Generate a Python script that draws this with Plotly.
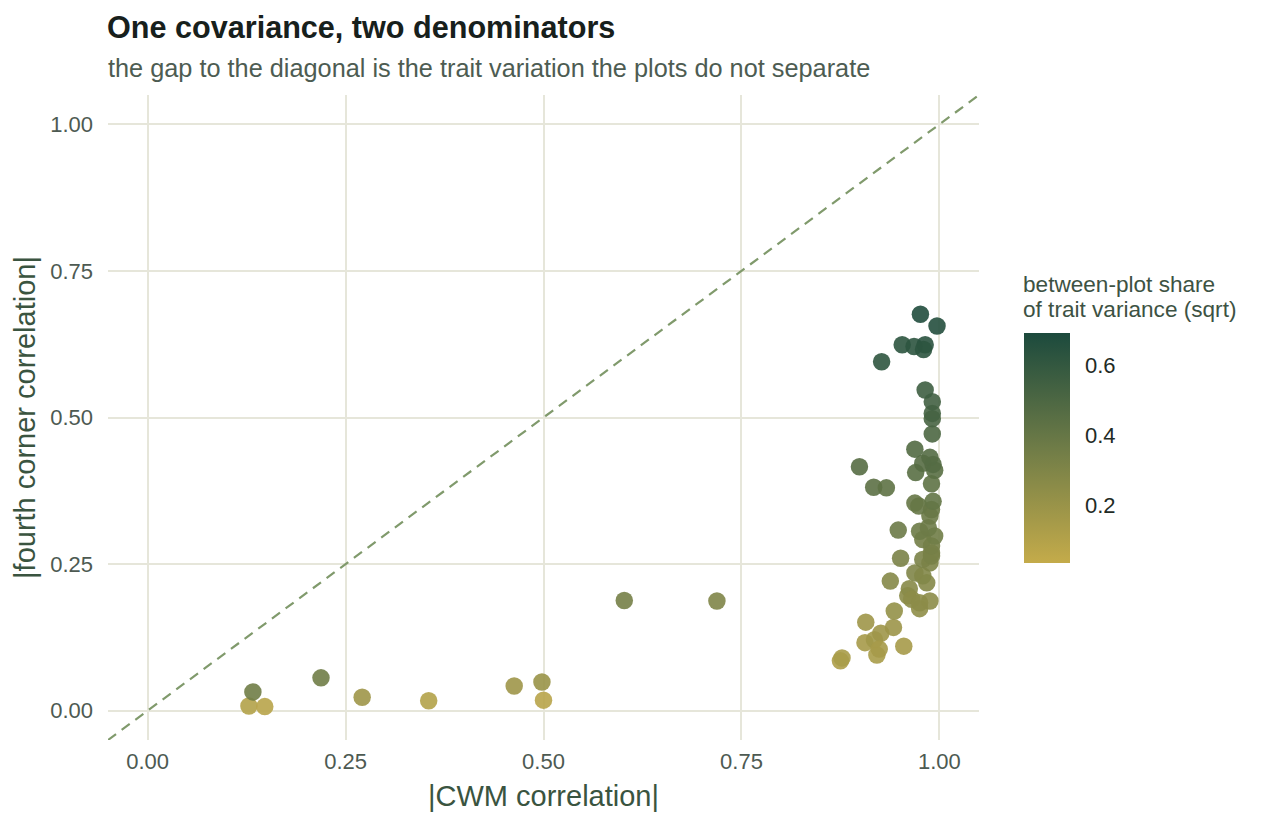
import plotly.graph_objects as go

cwm_corr = [0.128, 0.148, 0.133, 0.219, 0.271, 0.355, 0.463, 0.498, 0.500, 0.602, 0.719,
            0.875, 0.877, 0.907, 0.906, 0.918, 0.926, 0.921, 0.924, 0.942, 0.943, 0.955,
            0.938, 0.951, 0.969, 0.962, 0.960, 0.965, 0.975, 0.975, 0.988, 0.984, 0.979,
            0.988, 0.990, 0.979, 0.990, 0.990, 0.979, 0.994, 0.986, 0.975, 0.948, 0.988,
            0.990, 0.974, 0.969, 0.992, 0.917, 0.933, 0.990, 0.970, 0.994, 0.899, 0.979,
            0.992, 0.988, 0.969, 0.991, 0.991, 0.991, 0.991, 0.982, 0.927, 0.953, 0.968,
            0.982, 0.980, 0.997, 0.976]
fourth_corner = [0.008, 0.007, 0.032, 0.056, 0.023, 0.017, 0.042, 0.049, 0.018, 0.188, 0.187,
                 0.085, 0.090, 0.151, 0.116, 0.121, 0.132, 0.095, 0.105, 0.142, 0.170, 0.110,
                 0.221, 0.260, 0.235, 0.208, 0.196, 0.190, 0.174, 0.184, 0.187, 0.218, 0.230,
                 0.252, 0.269, 0.258, 0.264, 0.281, 0.292, 0.298, 0.312, 0.306, 0.308, 0.332,
                 0.343, 0.349, 0.354, 0.357, 0.381, 0.380, 0.387, 0.406, 0.410, 0.416, 0.422,
                 0.420, 0.432, 0.446, 0.472, 0.498, 0.507, 0.527, 0.547, 0.595, 0.624, 0.621,
                 0.624, 0.616, 0.656, 0.676]
between_share = [0.10, 0.08, 0.36, 0.36, 0.18, 0.10, 0.18, 0.20, 0.08, 0.34, 0.30,
                 0.12, 0.14, 0.18, 0.15, 0.17, 0.18, 0.14, 0.15, 0.19, 0.22, 0.15,
                 0.28, 0.32, 0.30, 0.27, 0.26, 0.25, 0.24, 0.25, 0.25, 0.28, 0.29,
                 0.31, 0.33, 0.32, 0.33, 0.34, 0.35, 0.36, 0.37, 0.37, 0.38, 0.38,
                 0.39, 0.40, 0.40, 0.41, 0.44, 0.43, 0.43, 0.45, 0.45, 0.46, 0.46,
                 0.47, 0.47, 0.48, 0.50, 0.52, 0.53, 0.54, 0.56, 0.62, 0.63, 0.63,
                 0.64, 0.63, 0.66, 0.68]

axis_range = [-0.05, 1.05]
tick_vals = [0, 0.25, 0.5, 0.75, 1.0]
tick_text = ["0.00", "0.25", "0.50", "0.75", "1.00"]
cbar_ticks = [0.2, 0.4, 0.6]
cbar_labels = ["0.2", "0.4", "0.6"]
cbar_min, cbar_max = 0.034, 0.694

W, H = 1267, 825
L, R, T, B = 108, 288, 95, 85
PW, PH = W - L - R, H - T - B
font_fam = "Liberation Sans, Arial, Helvetica, sans-serif"
grid_col = "#e6e6da"


def px_x(px):
    return (px - L) / PW


def px_y(py):
    return (H - B - py) / PH


# colorbar geometry (pixels)
cb_left, cb_top, cb_bottom, cb_thick = 1024, 333, 563, 46
cb_len = cb_bottom - cb_top

fig = go.Figure()
fig.add_trace(go.Scatter(
    x=axis_range, y=axis_range, mode="lines",
    line=dict(color="#809a6c", width=2.2, dash="10px,7px"),
    hoverinfo="skip", showlegend=False))
fig.add_trace(go.Scatter(
    x=cwm_corr, y=fourth_corner, mode="markers", showlegend=False,
    marker=dict(size=17.5, color=between_share, opacity=0.9,
                cmin=cbar_min, cmax=cbar_max,
                colorscale=[[0, "#c4ab4a"], [0.5, "#6f7c47"], [1, "#1c4a3d"]],
                line=dict(width=0),
                colorbar=dict(
                    x=px_x(cb_left), xanchor="left", xref="paper",
                    y=px_y((cb_top + cb_bottom) / 2), yanchor="middle",
                    xpad=0, ypad=0,
                    thickness=cb_thick, thicknessmode="pixels",
                    len=cb_len, lenmode="pixels",
                    outlinewidth=0,
                    tickvals=cbar_ticks, ticktext=cbar_labels,
                    ticks="outside", ticklen=11, tickcolor="rgba(0,0,0,0)", tickwidth=1,
                    tickfont=dict(size=22, color="#1f2b25", family=font_fam),
                ))))

# white inner tick marks on the colour bar
for v in cbar_ticks:
    yy = px_y(cb_bottom - (v - cbar_min) / (cbar_max - cbar_min) * cb_len)
    for x0, x1 in [(cb_left, cb_left + 9), (cb_left + cb_thick - 9, cb_left + cb_thick)]:
        fig.add_shape(type="line", xref="paper", yref="paper",
                      x0=px_x(x0), x1=px_x(x1), y0=yy, y1=yy,
                      line=dict(color="white", width=1.2))

# colour bar title
for text, cy in [("between-plot share", 284), ("of trait variance (sqrt)", 309)]:
    fig.add_annotation(
        xref="paper", yref="paper", x=px_x(1021), y=px_y(cy),
        xanchor="left", yanchor="middle", showarrow=False, text=text,
        font=dict(size=22.6, color="#3d5243", family=font_fam))

# title and subtitle
fig.add_annotation(
    xref="paper", yref="paper", x=px_x(105), y=px_y(27),
    xanchor="left", yanchor="middle", showarrow=False,
    text="<b>One covariance, two denominators</b>",
    font=dict(size=30.6, color="#17201c", family=font_fam))
fig.add_annotation(
    xref="paper", yref="paper", x=px_x(106), y=px_y(68),
    xanchor="left", yanchor="middle", showarrow=False,
    text="the gap to the diagonal is the trait variation the plots do not separate",
    font=dict(size=25.3, color="#4d5c52", family=font_fam))

fig.update_layout(
    width=W, height=H,
    margin=dict(l=L, r=R, t=T, b=B),
    paper_bgcolor="white", plot_bgcolor="white",
    font=dict(family=font_fam),
    xaxis=dict(
        range=axis_range, tickvals=tick_vals, ticktext=tick_text,
        showgrid=True, gridcolor=grid_col, gridwidth=1.5, zeroline=False,
        showline=False, ticks="", ticklabelstandoff=6,
        tickfont=dict(size=22, color="#4d5a52"),
        title=dict(text="|CWM correlation|", standoff=12,
                   font=dict(size=29, color="#3a5440"))),
    yaxis=dict(
        range=axis_range, tickvals=tick_vals, ticktext=tick_text,
        showgrid=True, gridcolor=grid_col, gridwidth=1.5, zeroline=False,
        showline=False, ticks="", ticklabelstandoff=14,
        tickfont=dict(size=22, color="#4d5a52"),
        title=dict(text="|fourth corner correlation|", standoff=6,
                   font=dict(size=29, color="#3a5440"))),
)

fig.write_html("out.html")
